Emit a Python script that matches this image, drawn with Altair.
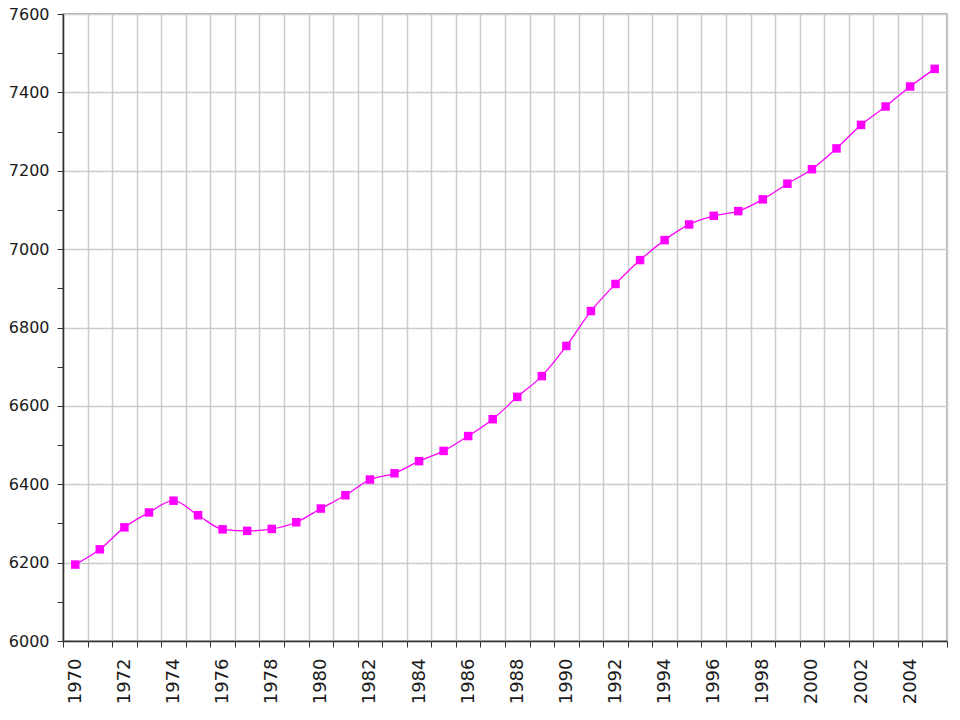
import altair as alt
import pandas as pd

years = list(range(1970, 2006))
values = [6195, 6234, 6290, 6328, 6358, 6321, 6285, 6281, 6286, 6303,
          6338, 6372, 6412, 6428, 6459, 6485, 6523, 6566, 6623, 6676,
          6753, 6842, 6911, 6972, 7023, 7063, 7085, 7097, 7127, 7167,
          7204, 7257, 7317, 7364, 7415, 7460]

y_ticks = list(range(6000, 7601, 100))
x_edges = [1969.5 + i for i in range(37)]

df = pd.DataFrame({"year": years, "value": values})

x_enc = alt.X(
    "year:Q",
    scale=alt.Scale(domain=[1969.5, 2005.5], nice=False, zero=False),
    axis=alt.Axis(
        values=x_edges,
        title=None,
        labelExpr="(datum.value % 2 == 1.5 && datum.value < 2005) ? format(datum.value + 0.5, 'd') : ''",
        labelAngle=270,
        labelAlign="right",
        labelBaseline="middle",
        labelOffset=12.3,
        labelPadding=11,
        labelOverlap=False,
        labelFlush=False,
        labelBound=False,
        labelFont="DejaVu Sans",
        labelFontSize=18,
        labelColor="#1a1a1a",
        tickSize=6,
        tickColor="#333333",
        domainColor="#333333",
        domainWidth=1.5,
        grid=True,
        gridColor="#cccccc",
        gridWidth=1.5,
    ),
)

y_enc = alt.Y(
    "value:Q",
    scale=alt.Scale(domain=[6000, 7600], nice=False, zero=False),
    axis=alt.Axis(
        values=y_ticks,
        title=None,
        format="d",
        labelExpr="datum.value % 200 == 0 ? datum.label : ''",
        labelPadding=8,
        labelOverlap=False,
        labelFlush=False,
        labelBound=False,
        labelFont="DejaVu Sans",
        labelFontSize=16,
        labelColor="#1a1a1a",
        tickSize=6,
        tickColor="#333333",
        domainColor="#333333",
        domainWidth=1.5,
        grid=True,
        gridColor="#cccccc",
        gridWidth=1.5,
        gridOpacity={"condition": {"test": "datum.value % 200 == 0", "value": 1}, "value": 0},
    ),
)

base = alt.Chart(df).encode(x=x_enc, y=y_enc)

line = base.mark_line(color="#ff00ff", strokeWidth=1.3, interpolate="monotone")
pts = base.mark_point(shape="square", filled=True, size=72, color="#ff00ff", opacity=1)

chart = (
    alt.layer(line, pts)
    .properties(
        width=884,
        height=627,
        autosize=alt.AutoSizeParams(type="none"),
        padding={"left": 63, "top": 14, "right": 13, "bottom": 79},
        background="white",
    )
    .configure_view(stroke="#999999", strokeWidth=1.5)
)

chart.save("out.html", embed_options={"renderer": "svg", "actions": False})
